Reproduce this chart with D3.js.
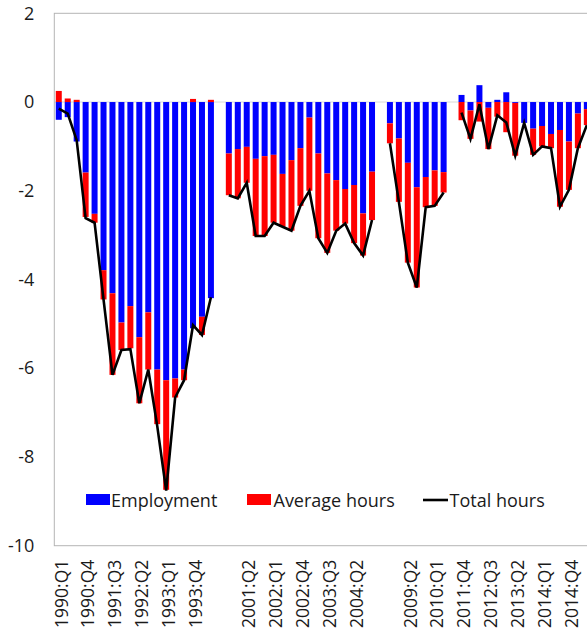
<!DOCTYPE html>
<html><head><meta charset="utf-8">
<script src="https://cdn.jsdelivr.net/npm/d3@7"></script>
<style>html,body{margin:0;padding:0;background:#fff;} svg{display:block;}</style>
</head><body>
<svg id="chart" width="587" height="630"></svg>
<script>
// ---- data ----
const categories = [
  "1990:Q1","1990:Q2","1990:Q3","1990:Q4","1991:Q1","1991:Q2","1991:Q3","1991:Q4","1992:Q1","1992:Q2","1992:Q3","1992:Q4","1993:Q1","1993:Q2","1993:Q3","1993:Q4","1994:Q1","1994:Q2",
  "",
  "2000:Q4","2001:Q1","2001:Q2","2001:Q3","2001:Q4","2002:Q1","2002:Q2","2002:Q3","2002:Q4","2003:Q1","2003:Q2","2003:Q3","2003:Q4","2004:Q1","2004:Q2","2004:Q3","2004:Q4",
  "",
  "2008:Q4","2009:Q1","2009:Q2","2009:Q3","2009:Q4","2010:Q1","2010:Q2",
  "",
  "2011:Q4","2012:Q1","2012:Q2","2012:Q3","2012:Q4","2013:Q1","2013:Q2","2013:Q3","2013:Q4","2014:Q1","2014:Q2","2014:Q3","2014:Q4","2015:Q1","2015:Q2"
];
const employment = [
  -0.40,-0.34,-0.89,-1.59,-2.52,-3.79,-4.31,-4.97,-4.60,-5.30,-4.74,-6.03,-6.27,-6.23,-6.03,-5.10,-4.84,-4.42,
  null,
  -1.16,-1.06,-1.01,-1.28,-1.22,-1.19,-1.62,-1.31,-1.04,-0.35,-1.16,-1.61,-1.76,-1.96,-1.87,-2.51,-1.57,
  null,
  -0.48,-0.82,-1.37,-1.92,-1.69,-1.54,-1.58,
  null,
  0.16,-0.19,0.38,-0.13,0.05,0.22,-0.02,-0.47,-0.60,-0.54,-0.72,-0.63,-0.89,-0.26,-0.16
];
const avgHours = [
  0.25,0.08,0.05,-1.00,-0.20,-0.66,-1.84,-0.62,-0.95,-1.49,-1.29,-1.23,-2.47,-0.43,-0.24,0.07,-0.41,0.05,
  null,
  -0.94,-1.11,-0.81,-1.74,-1.80,-1.53,-1.19,-1.59,-1.30,-1.65,-1.91,-1.79,-1.14,-0.78,-1.31,-0.95,-1.09,
  null,
  -0.45,-1.43,-2.25,-2.26,-0.68,-0.80,-0.46,
  null,
  -0.41,-0.64,-0.44,-0.93,-0.33,-0.68,-1.19,0.00,-0.59,-0.46,-0.32,-1.73,-1.09,-0.78,-0.36
];
const totalHours = [
  -0.15,-0.26,-0.86,-2.62,-2.72,-4.45,-6.15,-5.59,-5.57,-6.79,-6.03,-7.30,-8.76,-6.66,-6.27,-5.03,-5.25,-4.40,
  null,
  -2.10,-2.17,-1.82,-3.02,-3.02,-2.72,-2.81,-2.90,-2.34,-2.00,-3.07,-3.40,-2.90,-2.74,-3.18,-3.46,-2.66,
  null,
  -0.93,-2.25,-3.62,-4.18,-2.37,-2.34,-2.04,
  null,
  -0.24,-0.83,-0.05,-1.06,-0.30,-0.46,-1.21,-0.47,-1.19,-1.00,-1.04,-2.36,-1.98,-1.04,-0.52
];
const tickLabels = ["1990:Q1","1990:Q4","1991:Q3","1992:Q2","1993:Q1","1993:Q4",
  "2001:Q2","2002:Q1","2002:Q4","2003:Q3","2004:Q2",
  "2009:Q2","2010:Q1","2011:Q4","2012:Q3","2013:Q2","2014:Q1","2014:Q4"];
const yTicks = [2,0,-2,-4,-6,-8,-10];
const seriesNames = ["Employment","Average hours","Total hours"];
const colors = {emp:"#0000ff", hrs:"#ff0000", tot:"#000000"};

// ---- layout ----
(function draw() {
const FONT = "'Open Sans', 'Noto Sans', sans-serif";
const svg = d3.select("#chart");
const plotLeft = 54.3, plotTop = 13.3, plotBottom = 545.7, step = 8.95;
const plotRight = plotLeft + categories.length * step;

const x = d3.scaleBand().domain(d3.range(categories.length))
  .range([plotLeft, plotRight]).paddingInner(0.33).paddingOuter(0.165);
const y = d3.scaleLinear().domain([-10, 2]).range([plotBottom, plotTop]);

// zero line
svg.append("line").attr("x1", plotLeft).attr("x2", plotRight)
  .attr("y1", y(0)).attr("y2", y(0)).attr("stroke", "#d9d9d9").attr("stroke-width", 1);

// stacked bars
const rects = [];
categories.forEach((c, i) => {
  const e = employment[i], h = avgHours[i];
  if (e == null) return;
  let pos = 0, neg = 0;
  const eFrom = e >= 0 ? pos : neg, eTo = eFrom + e;
  if (e >= 0) pos = eTo; else neg = eTo;
  rects.push({i, from: eFrom, to: eTo, c: colors.emp});
  const hFrom = h >= 0 ? pos : neg, hTo = hFrom + h;
  rects.push({i, from: hFrom, to: hTo, c: colors.hrs});
});
svg.append("g").selectAll("rect").data(rects).join("rect")
  .attr("x", d => x(d.i)).attr("width", x.bandwidth())
  .attr("y", d => y(Math.max(d.from, d.to)))
  .attr("height", d => Math.abs(y(d.from) - y(d.to)))
  .attr("fill", d => d.c);

// total hours line
const line = d3.line().defined(d => d.v != null)
  .x(d => x(d.i) + x.bandwidth() / 2).y(d => y(d.v));
svg.append("path")
  .datum(totalHours.map((v, i) => ({i, v})))
  .attr("d", line).attr("fill", "none").attr("stroke", colors.tot)
  .attr("stroke-width", 2.6).attr("stroke-linejoin", "miter");

// plot border
svg.append("rect").attr("x", plotLeft).attr("y", plotTop)
  .attr("width", plotRight - plotLeft).attr("height", plotBottom - plotTop)
  .attr("fill", "none").attr("stroke", "#b4b4b4").attr("stroke-width", 1);

// y axis
const yAxis = svg.append("g").attr("transform", `translate(${plotLeft},0)`)
  .call(d3.axisLeft(y).tickValues(yTicks).tickSize(0).tickPadding(20).tickFormat(d => String(d)));
yAxis.select(".domain").remove();
yAxis.selectAll("text").attr("font-family", FONT).attr("font-size", 18).attr("fill", "#1a1a1a");

// x axis
const tickIdx = d3.range(categories.length).filter(i => tickLabels.includes(categories[i]));
const xAxis = svg.append("g").attr("transform", `translate(0,${plotBottom})`)
  .call(d3.axisBottom(x).tickValues(tickIdx).tickSize(0).tickFormat(i => categories[i]));
xAxis.select(".domain").remove();
xAxis.selectAll("text")
  .attr("transform", "rotate(-90)")
  .attr("text-anchor", "end")
  .attr("x", -14).attr("y", 0).attr("dy", "0.5em")
  .attr("font-family", FONT).attr("font-size", 17.5).attr("fill", "#1a1a1a");

// legend
const lg = svg.append("g").attr("font-family", FONT).attr("font-size", 18).attr("fill", "#1a1a1a");
lg.append("rect").attr("x", 86).attr("y", 494).attr("width", 24).attr("height", 11).attr("fill", colors.emp);
lg.append("text").attr("x", 111).attr("y", 506.7).text(seriesNames[0]);
lg.append("rect").attr("x", 247).attr("y", 494).attr("width", 24).attr("height", 11).attr("fill", colors.hrs);
lg.append("text").attr("x", 273.5).attr("y", 506.7).text(seriesNames[1]);
lg.append("line").attr("x1", 423).attr("x2", 448).attr("y1", 500).attr("y2", 500)
  .attr("stroke", colors.tot).attr("stroke-width", 2.6);
lg.append("text").attr("x", 449.5).attr("y", 506.7).text(seriesNames[2]);
})();
</script>
</body></html>
